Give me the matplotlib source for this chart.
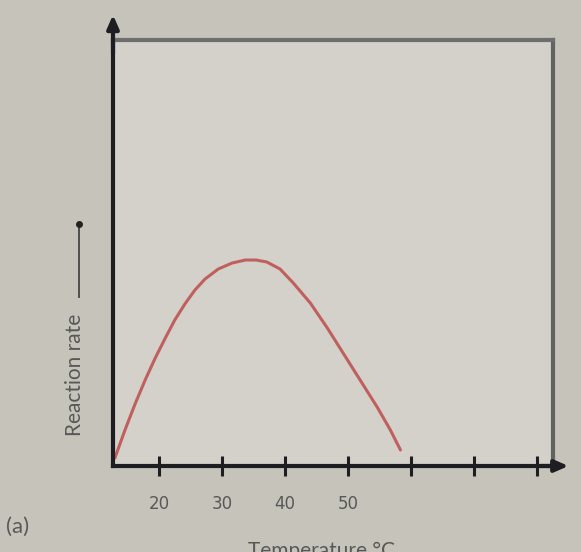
import matplotlib.pyplot as plt

# curve (temperature in degC, rate in arbitrary units)
temp = [13.0, 14.6, 16.2, 17.8, 19.4, 21.0, 22.5, 24.1, 25.7, 27.3, 29.4, 31.6, 33.7,
        35.4, 37.1, 39.2, 41.3, 44.0, 46.7, 49.2, 51.9, 54.6, 56.7, 58.3]
rate = [8, 36, 62, 86, 108, 128, 146, 162, 176, 187, 197, 203, 206,
        206, 204, 197, 183, 163, 138, 113, 86, 59, 36, 16]

tick_pos = [20, 30, 40, 50, 60, 70, 80]
tick_labels = ["20", "30", "40", "50", "", "", ""]

bg = "#c5c3ba"
inner = "#d3d1c9"
axis_col = "#1e1e22"
text_col = "#585858"

fig = plt.figure(figsize=(5.81, 5.52), dpi=100)
fig.patch.set_facecolor(bg)
ax = fig.add_axes([0.1945, 0.1558, 0.7573, 0.7717])
ax.set_facecolor(inner)

ax.plot(temp, rate, color="#c0605e", lw=2.2, solid_capstyle="round",
        solid_joinstyle="round")

ax.set_xlim(12.7, 82.5)
ax.set_ylim(0, 426)

for s in ["left", "bottom"]:
    ax.spines[s].set_color(axis_col)
    ax.spines[s].set_linewidth(3)
ax.spines["top"].set_color("#6e6e6e")
ax.spines["top"].set_linewidth(3)
ax.spines["right"].set_color("#626262")
ax.spines["right"].set_linewidth(3)

ax.set_xticks(tick_pos)
ax.set_xticklabels(tick_labels)
ax.set_yticks([])
ax.tick_params(axis="x", direction="inout", length=14, width=2.2, color=axis_col,
               labelsize=12, labelcolor=text_col, pad=14)

# arrow heads on the axes
ax.annotate("", xy=(85.4, 0), xytext=(80, 0), xycoords="data",
            arrowprops=dict(arrowstyle="-|>,head_length=0.8,head_width=0.35",
                            color=axis_col, lw=3), annotation_clip=False)
ax.annotate("", xy=(12.7, 454), xytext=(12.7, 410), xycoords="data",
            arrowprops=dict(arrowstyle="-|>,head_length=0.8,head_width=0.35",
                            color=axis_col, lw=3), annotation_clip=False)

# y label with its little arrow
fig.text(75 / 581, 1 - 375 / 552, "Reaction rate", rotation=90, ha="center", va="center",
         fontsize=15, color=text_col, family="Lato")
fig.add_artist(plt.Line2D([79 / 581, 79 / 581], [1 - 297 / 552, 1 - 226 / 552],
                          color="#444444", lw=1.3))
fig.add_artist(plt.Line2D([79 / 581], [1 - 224 / 552], marker="o", ms=4, color="#222222"))

fig.text(6 / 581, 1 - 527 / 552, "(a)", ha="left", va="center", fontsize=16,
         color=text_col, family="Lato")
fig.text(322 / 581, 1 - 541 / 552, "Temperature °C", ha="center", va="top",
         fontsize=15, color=text_col, family="Lato")

fig.savefig("out.png", dpi=100, facecolor=bg)
